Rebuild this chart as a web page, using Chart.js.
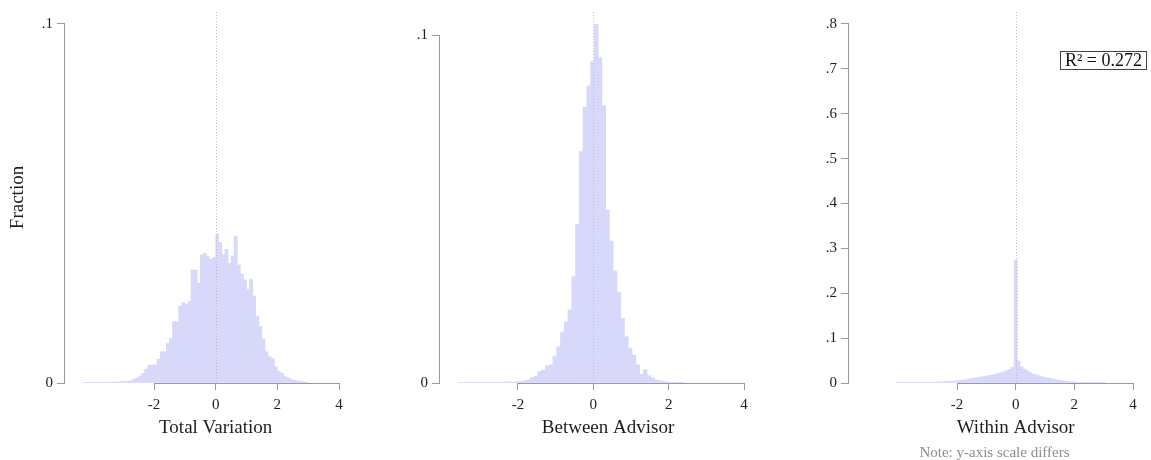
<!DOCTYPE html>
<html>
<head>
<meta charset="utf-8">
<script src="https://cdn.jsdelivr.net/npm/chart.js@4.4.1/dist/chart.umd.min.js"></script>
<style>
  body { margin: 0; background: #fff; }
  #wrap { position: relative; width: 1151px; height: 460px; overflow: hidden; font-family: "Liberation Serif", "Times New Roman", serif; }
  canvas { position: absolute; top: 0; }
  #r2 { position: absolute; left: 1060px; top: 51px; width: 87px; height: 19px; box-sizing: border-box;
        border: 1px solid #444; font-size: 18px; line-height: 17px; text-align: center; color: #111; white-space: nowrap; }
  #note { position: absolute; left: 894px; top: 445px; width: 201px; text-align: center;
          font-size: 15px; line-height: 15px; color: #8c8c8c; white-space: nowrap; }
</style>
</head>
<body>
<div id="wrap">
  <canvas id="totalChart" width="380" height="460" style="left:0px"></canvas>
  <canvas id="betweenChart" width="380" height="460" style="left:380px"></canvas>
  <canvas id="withinChart" width="391" height="460" style="left:760px"></canvas>
  <div id="r2">R² = 0.272</div>
  <div id="note">Note: y-axis scale differs</div>
</div>
<script>
// histogram bins: left edge of first bin, bin width, fraction per bin
const totalStart = -4.3;
const totalWidth = 0.1;
const totalFrac = [
  0.0001, 0.0001, 0.0001,
  0.0001, 0.0001, 0.0001, 0.0001, 0.0002, 0.0002, 0.0002, 0.0003, 0.0003, 0.0004,
  0.0004, 0.0005, 0.0006, 0.0010, 0.0014, 0.0019, 0.0027, 0.0039, 0.0049, 0.0050,
  0.0050, 0.0066, 0.0087, 0.0087, 0.0110, 0.0124, 0.0171, 0.0171, 0.0214, 0.0224,
  0.0220, 0.0227, 0.0315, 0.0315, 0.0278, 0.0357, 0.0361, 0.0352, 0.0344, 0.0350,
  0.0415, 0.0391, 0.0357, 0.0372, 0.0333, 0.0354, 0.0409, 0.0329, 0.0304, 0.0287,
  0.0261, 0.0289, 0.0242, 0.0185, 0.0157, 0.0122, 0.0087, 0.0073, 0.0068, 0.0045,
  0.0032, 0.0027, 0.0018, 0.0014, 0.0010, 0.0007, 0.0006, 0.0004, 0.0004, 0.0001
];

const betweenStart = -3.573;
const betweenWidth = 0.1;
const betweenFrac = [
  0.0001, 0.0001, 0.0001, 0.0001, 0.0001, 0.0001, 0.0001, 0.0002, 0.0002, 0.0002,
  0.0002, 0.0002, 0.0003, 0.0003, 0.0003, 0.0004, 0.0004, 0.0006, 0.0009, 0.0016,
  0.0020, 0.0033, 0.0037, 0.0050, 0.0052, 0.0076, 0.0104, 0.0145, 0.0176, 0.0210,
  0.0306, 0.0456, 0.0665, 0.0792, 0.0854, 0.0923, 0.1031, 0.0935, 0.0797, 0.0497,
  0.0408, 0.0322, 0.0261, 0.0186, 0.0133, 0.0100, 0.0080, 0.0052, 0.0025, 0.0038,
  0.0021, 0.0015, 0.0009, 0.0006, 0.0004, 0.0003, 0.0002, 0.0002, 0.0001, 0.0001
];

const withinStart = -4.05;
const withinWidth = 0.1;
const withinFrac = [
  0.0002, 0.0003, 0.0003, 0.0004, 0.0004, 0.0005, 0.0006, 0.0007, 0.0008, 0.0010,
  0.0012, 0.0014, 0.0016, 0.0019, 0.0022, 0.0026, 0.0030, 0.0034, 0.0039, 0.0044,
  0.0050, 0.0058, 0.0066, 0.0075, 0.0088, 0.0100, 0.0110, 0.0120, 0.0130, 0.0142,
  0.0155, 0.0165, 0.0178, 0.0192, 0.0210, 0.0228, 0.0250, 0.0275, 0.0305, 0.0355,
  0.2740, 0.0490, 0.0360, 0.0310, 0.0270, 0.0230, 0.0200, 0.0180, 0.0160, 0.0140,
  0.0125, 0.0110, 0.0097, 0.0085, 0.0072, 0.0060, 0.0050, 0.0042, 0.0035, 0.0028,
  0.0022, 0.0017, 0.0013, 0.0010, 0.0008, 0.0006, 0.0005, 0.0004, 0.0003, 0.0002,
  0.0002
];

const xTicks = [-2, 0, 2, 4];
const yTicksSmall = [0, 0.1];
const yTicksWithin = [0, 0.1, 0.2, 0.3, 0.4, 0.5, 0.6, 0.7, 0.8];

const barColor = '#d8d8fb';
const axisColor = '#9a9a9a';
const textColor = '#1e1e1e';
const serif = '"Liberation Serif", "Times New Roman", serif';

function binPoints(start, width, frac) {
  return frac.map((v, i) => ({ x: start + width * (i + 0.5), y: v }));
}

// axis lines (only across the labelled range), dotted zero line, x title
const decor = {
  id: 'decor',
  afterDatasetsDraw(chart, args, opts) {
    const { ctx, chartArea } = chart;
    const x = chart.scales.x, y = chart.scales.y;
    ctx.save();
    const x0 = Math.round(x.getPixelForValue(0)) + 0.5;
    ctx.strokeStyle = '#bdbdbd';
    ctx.lineWidth = 1;
    ctx.setLineDash([1, 2]);
    ctx.beginPath();
    ctx.moveTo(x0, chartArea.top);
    ctx.lineTo(x0, chartArea.bottom);
    ctx.stroke();
    ctx.setLineDash([]);

    ctx.strokeStyle = axisColor;
    const yb = Math.round(y.getPixelForValue(0)) + 0.5;
    ctx.beginPath();
    ctx.moveTo(x.getPixelForValue(xTicks[0]), yb);
    ctx.lineTo(x.getPixelForValue(xTicks[xTicks.length - 1]), yb);
    ctx.stroke();
    const xl = chartArea.left - 0.5;
    ctx.beginPath();
    ctx.moveTo(xl, y.getPixelForValue(opts.yTop));
    ctx.lineTo(xl, yb);
    ctx.stroke();

    ctx.fillStyle = textColor;
    ctx.font = '19px ' + serif;
    ctx.textAlign = 'center';
    ctx.textBaseline = 'middle';
    ctx.fillText(opts.title, x.getPixelForValue(opts.titleAt), chartArea.bottom + 45);
    ctx.restore();
  }
};

function makeHist(id, o) {
  return new Chart(document.getElementById(id), {
    type: 'bar',
    data: {
      datasets: [{
        data: o.points,
        backgroundColor: barColor,
        borderWidth: 0,
        barPercentage: 1,
        categoryPercentage: 1
      }]
    },
    options: {
      responsive: false,
      animation: false,
      events: [],
      layout: { padding: { left: 0, right: o.padRight, top: 12, bottom: 0 } },
      plugins: {
        legend: { display: false },
        tooltip: { enabled: false },
        decor: { title: o.title, titleAt: o.titleAt, yTop: o.yTicks[o.yTicks.length - 1] }
      },
      scales: {
        x: {
          type: 'linear',
          min: o.xMin,
          max: 4,
          offset: false,
          afterBuildTicks: s => { s.ticks = xTicks.map(v => ({ value: v })); },
          afterFit: s => { s.height = 77; s.paddingLeft = 0; s.paddingRight = 0; },
          grid: { offset: false, drawOnChartArea: false, drawTicks: true, tickLength: 7, color: axisColor },
          border: { display: false },
          ticks: {
            padding: 6, maxRotation: 0, autoSkip: false, color: textColor,
            font: { family: serif, size: 15 },
            callback: v => String(v)
          }
        },
        y: {
          min: 0,
          max: o.yMax,
          afterBuildTicks: s => { s.ticks = o.yTicks.map(v => ({ value: v })); },
          afterFit: s => { s.width = o.yWidth; s.paddingTop = 0; s.paddingBottom = 0; },
          grid: { offset: false, drawOnChartArea: false, drawTicks: true, tickLength: 8, color: axisColor },
          border: { display: false },
          ticks: {
            padding: 4, color: textColor,
            font: { family: serif, size: 15 },
            callback: v => v === 0 ? '0' : v.toFixed(1).replace(/^0/, '')
          },
          title: {
            display: !!o.yTitle,
            text: o.yTitle || '',
            color: textColor,
            font: { family: serif, size: 19 },
            padding: { top: 7, bottom: 0 }
          }
        }
      }
    },
    plugins: [decor]
  });
}

makeHist('totalChart', {
  points: binPoints(totalStart, totalWidth, totalFrac),
  xMin: -4.887, yMax: 0.10334, yTicks: yTicksSmall,
  yWidth: 65, padRight: 41, yTitle: 'Fraction',
  title: 'Total Variation', titleAt: 0
});

makeHist('betweenChart', {
  points: binPoints(betweenStart, betweenWidth, betweenFrac),
  xMin: -4.07, yMax: 0.10661, yTicks: yTicksSmall,
  yWidth: 60, padRight: 16,
  title: 'Between Advisor', titleAt: 0.39
});

makeHist('withinChart', {
  points: binPoints(withinStart, withinWidth, withinFrac),
  xMin: -5.683, yMax: 0.8267, yTicks: yTicksWithin,
  yWidth: 89, padRight: 18,
  title: 'Within Advisor', titleAt: 0
});
</script>
</body>
</html>
